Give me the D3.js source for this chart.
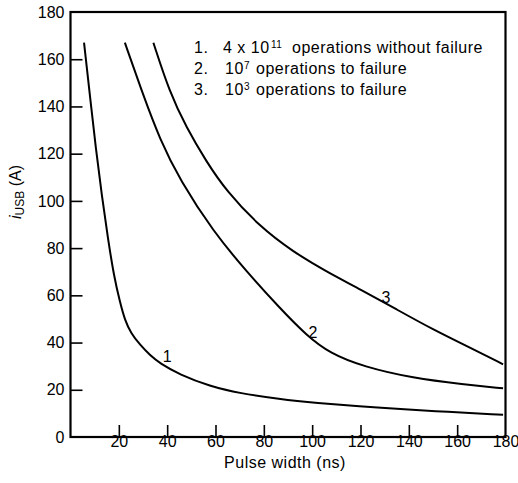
<!DOCTYPE html>
<html>
<head>
<meta charset="utf-8">
<script src="https://cdn.jsdelivr.net/npm/d3@7"></script>
<style>
  html, body { margin: 0; padding: 0; background: #fff; }
  svg { display: block; }
  text { font-family: "Liberation Sans", Arial, Helvetica, sans-serif; fill: #000; }
</style>
</head>
<body>
<svg id="chart" width="518" height="483"></svg>
<script>
// ---- data ----
const pulse1 = [5.6, 8, 10.5, 13, 15.5, 18, 20.5, 22.5, 25, 28.8, 33, 37, 45, 57.7, 70, 86.7, 100, 128, 150, 179];
const iusb1  = [167, 145, 122, 102, 84, 68, 57, 49.5, 44, 39, 34.5, 31.2, 26.5, 21.5, 18.5, 16, 14.5, 12.3, 11, 9.4];
const pulse2 = [22.5, 30, 37, 45.3, 59.1, 72.9, 86.7, 97.7, 107.4, 121.2, 141.8, 162.5, 179];
const iusb2  = [167, 145, 126, 108.7, 87, 70, 54.5, 43, 35.4, 29.8, 24.9, 22.3, 20.6];
const pulse3 = [34.3, 41, 48, 56, 64.6, 78.4, 92, 106, 120, 135, 150, 165, 179];
const iusb3  = [167, 146, 131, 117, 104, 89, 78.5, 70, 62.5, 54, 45.5, 38, 30.8];
const curveLabels = ["1", "2", "3"];
const labelX = [40, 100.3, 130.5];
const labelY = [34.3, 44.5, 59.3];
const xTicks = [20, 40, 60, 80, 100, 120, 140, 160, 180];
const yTicks = [0, 20, 40, 60, 80, 100, 120, 140, 160, 180];
const legendNums = ["1.", "2.", "3."];
const legendBase = ["4 x 10", "10", "10"];
const legendSup = ["11", "7", "3"];
const legendRest = ["operations without failure", "operations to failure", "operations to failure"];
const xTitle = "Pulse width (ns)";

const svg = d3.select("#chart");
const x = d3.scaleLinear().domain([0, 180]).range([70.5, 505.5]);
const y = d3.scaleLinear().domain([0, 180]).range([437, 12]);
const FONT = '"Liberation Sans", Arial, sans-serif';

// frame
svg.append("rect")
  .attr("x", x(0)).attr("y", y(180))
  .attr("width", x(180) - x(0)).attr("height", y(0) - y(180))
  .attr("fill", "none").attr("stroke", "#000").attr("stroke-width", 2.2);

// y axis
const yAxis = svg.append("g").attr("transform", `translate(${x(0)},0)`)
  .call(d3.axisLeft(y).tickValues(yTicks).tickSize(-12).tickPadding(6).tickFormat(d3.format("d")));
yAxis.select(".domain").remove();
yAxis.selectAll(".tick line").attr("stroke-width", 1.6)
  .attr("display", d => (d === 0 || d === 180) ? "none" : null);
yAxis.selectAll(".tick text").attr("font-size", 16).attr("fill", "#000").style("font-family", FONT);

// x axis
const xAxis = svg.append("g").attr("transform", `translate(0,${y(0)})`)
  .call(d3.axisBottom(x).tickValues(xTicks).tickSize(-12).tickPadding(-1).tickFormat(d3.format("d")));
xAxis.select(".domain").remove();
xAxis.selectAll(".tick line").attr("stroke-width", 1.6)
  .attr("display", d => d === 180 ? "none" : null);
xAxis.selectAll(".tick text").attr("font-size", 16).attr("fill", "#000").style("font-family", FONT);

// curves
const line = d3.line().x(d => x(d[0])).y(d => y(d[1])).curve(d3.curveBasis);
const series = [d3.zip(pulse1, iusb1), d3.zip(pulse2, iusb2), d3.zip(pulse3, iusb3)];
svg.selectAll("path.curve").data(series).enter().append("path")
  .attr("class", "curve")
  .attr("d", line)
  .attr("fill", "none").attr("stroke", "#000").attr("stroke-width", 2);

// curve labels
svg.selectAll("text.clabel").data(curveLabels).enter().append("text")
  .attr("class", "clabel")
  .attr("x", (d, i) => x(labelX[i])).attr("y", (d, i) => y(labelY[i]))
  .attr("dy", "0.35em").attr("text-anchor", "middle")
  .attr("font-size", 16).text(d => d);

// legend (layout constants)
const legRowY = [52.5, 73.5, 94.5];
const legBaseX = [223, 225, 225];
const legSupX = [271, 244, 244];
const legRestX = [292, 256, 256];
legendNums.forEach((n, i) => {
  const g = svg.append("g").attr("font-size", 16).attr("letter-spacing", 0.5);
  g.append("text").attr("x", 194).attr("y", legRowY[i]).text(n);
  g.append("text").attr("x", legBaseX[i]).attr("y", legRowY[i]).text(legendBase[i]);
  g.append("text").attr("x", legSupX[i]).attr("y", legRowY[i] - 5).attr("font-size", 10).text(legendSup[i]);
  g.append("text").attr("x", legRestX[i]).attr("y", legRowY[i]).text(legendRest[i]);
});

// axis titles
svg.append("text").attr("x", 285).attr("y", 468).attr("text-anchor", "middle")
  .attr("font-size", 16).attr("letter-spacing", 0.5).text(xTitle);

const yt = svg.append("text").attr("transform", "translate(21,192) rotate(-90)")
  .attr("text-anchor", "middle").attr("font-size", 16);
yt.append("tspan").attr("font-style", "italic").text("i");
yt.append("tspan").attr("font-size", 12).attr("dy", 3).text("USB");
yt.append("tspan").attr("dy", -3).text(" (A)");
</script>
</body>
</html>
